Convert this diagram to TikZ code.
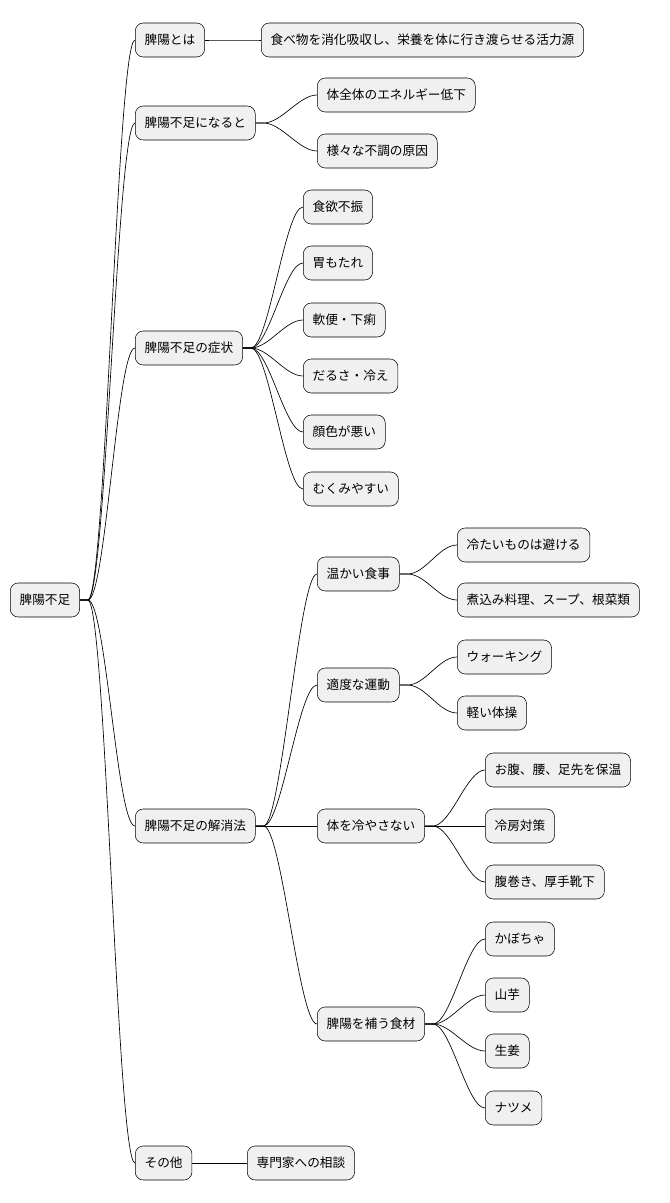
\documentclass[tikz,border=0pt]{standalone}
\usepackage{fontspec}
\newfontfamily\jp{Noto Sans CJK JP}
\begin{document}
\begin{tikzpicture}[x=0.75pt,y=-0.75pt,
    topic/.style={rectangle, rounded corners=6pt, draw=black, fill=black!6, anchor=west,
      minimum height=25.5pt, inner xsep=7pt, font=\jp\fontsize{9.5}{11}\selectfont},
    link/.style={draw=black, line width=0.5pt},
    ]
      \useasboundingbox (0,0) rectangle (670,1203);
      %Nodes
      \node[topic] (root) at (10,600) {脾陽不足};

      \node[topic] (A) at (135,40)   {脾陽とは};
      \node[topic] (B) at (135,123)  {脾陽不足になると};
      \node[topic] (C) at (135,348)  {脾陽不足の症状};
      \node[topic] (D) at (135,826)  {脾陽不足の解消法};
      \node[topic] (E) at (135,1163) {その他};

      \node[topic] (A1) at (261,40)  {食べ物を消化吸収し、栄養を体に行き渡らせる活力源};
      \node[topic] (B1) at (317,95)  {体全体のエネルギー低下};
      \node[topic] (B2) at (317,151) {様々な不調の原因};

      \node[topic] (C1) at (303,207) {食欲不振};
      \node[topic] (C2) at (303,263) {胃もたれ};
      \node[topic] (C3) at (303,320) {軟便・下痢};
      \node[topic] (C4) at (303,376) {だるさ・冷え};
      \node[topic] (C5) at (303,432) {顔色が悪い};
      \node[topic] (C6) at (303,489) {むくみやすい};

      \node[topic] (D1) at (317,574)  {温かい食事};
      \node[topic] (D2) at (317,685)  {適度な運動};
      \node[topic] (D3) at (317,826)  {体を冷やさない};
      \node[topic] (D4) at (317,1024) {脾陽を補う食材};
      \node[topic] (E1) at (247,1163) {専門家への相談};

      \node[topic] (D11) at (457,545) {冷たいものは避ける};
      \node[topic] (D12) at (457,600) {煮込み料理、スープ、根菜類};
      \node[topic] (D21) at (457,657) {ウォーキング};
      \node[topic] (D22) at (457,713) {軽い体操};
      \node[topic] (D31) at (485,770) {お腹、腰、足先を保温};
      \node[topic] (D32) at (485,826) {冷房対策};
      \node[topic] (D33) at (485,882) {腹巻き、厚手靴下};
      \node[topic] (D41) at (485,939)  {かぼちゃ};
      \node[topic] (D42) at (485,995)  {山芋};
      \node[topic] (D43) at (485,1051) {生姜};
      \node[topic] (D44) at (485,1108) {ナツメ};

      %Lines
      \foreach \p/\c in {root/A, root/B, root/C, root/D, root/E,
                         A/A1, B/B1, B/B2,
                         C/C1, C/C2, C/C3, C/C4, C/C5, C/C6,
                         D/D1, D/D2, D/D3, D/D4, E/E1,
                         D1/D11, D1/D12, D2/D21, D2/D22,
                         D3/D31, D3/D32, D3/D33,
                         D4/D41, D4/D42, D4/D43, D4/D44}
        \draw[link] (\p.east) -- ++(8,0) .. controls +(18,0) and +(-18,0) .. (\c.west);
    \end{tikzpicture}
\end{document}
